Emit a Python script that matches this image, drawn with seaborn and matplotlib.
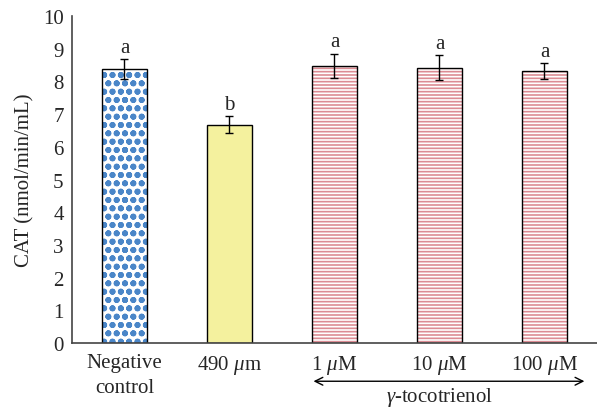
import matplotlib
matplotlib.use("Agg")
import matplotlib.pyplot as plt
import matplotlib.transforms as mtransforms
import seaborn as sns
import pandas as pd
import numpy as np

categories = ["Negative\ncontrol", "490 $\\mu$m", "1 $\\mu$M", "10 $\\mu$M", "100 $\\mu$M"]
values = [8.38, 6.68, 8.47, 8.42, 8.32]
errors = [0.30, 0.27, 0.38, 0.38, 0.25]
letters = ["a", "b", "a", "a", "a"]
y_ticks = list(range(0, 11))
group_label = "$\\gamma$-tocotrienol"

sns.set_theme(style="white")
plt.rcParams["font.family"] = ["Liberation Serif", "DejaVu Serif"]
plt.rcParams["mathtext.fontset"] = "custom"
plt.rcParams["mathtext.rm"] = "Liberation Serif"
plt.rcParams["mathtext.it"] = "Liberation Serif:italic"
plt.rcParams["hatch.linewidth"] = 1.2

FS = 15

df = pd.DataFrame({"cat": categories, "val": values})

fig = plt.figure(figsize=(5.97, 4.10), dpi=100)
ax = fig.add_axes([0.1206, 0.161, 0.8794, 0.7975])

fills = ["white", "#f4f19e", "white", "white", "white"]
hatch_cols = ["#4a86c8", "black", "#dc8c94", "#dc8c94", "#dc8c94"]
hatches = ["oo", None, "-----", "-----", "-----"]
hatch_lws = [1.9, 1.0, 1.2, 1.2, 1.2]

# hatched layer
sns.barplot(data=df, x="cat", y="val", ax=ax, width=0.42, errorbar=None,
            color="white", linewidth=0)
for p, fc, hc, h, hl in zip(ax.patches, fills, hatch_cols, hatches, hatch_lws):
    p.set_facecolor(fc)
    if h:
        p.set_hatch(h)
        p.set_edgecolor(hc)
        p.set_linewidth(0)
        if hasattr(p, "set_hatch_linewidth"):
            p.set_hatch_linewidth(hl)

# outline layer
sns.barplot(data=df, x="cat", y="val", ax=ax, width=0.42, errorbar=None,
            fill=False, edgecolor="black", linewidth=1.0)

x = np.arange(len(categories))
ax.errorbar(x, values, yerr=errors, fmt="none", ecolor="black",
            elinewidth=1.0, capsize=3, capthick=1.0)

for xi, v, e, l in zip(x, values, errors, letters):
    ax.text(xi, v + e + 0.22, l, ha="center", va="baseline", fontsize=FS)

ax.set_xlim(-0.5, 4.5)
ax.set_ylim(0, 10)
ax.set_yticks(y_ticks)
ax.set_yticklabels([str(t) for t in y_ticks], fontsize=FS)
ax.set_xticks(x)
ax.set_xticklabels(categories, fontsize=FS, linespacing=1.45)
ax.set_xticks([0.5, 1.5, 2.5, 3.5, 4.5], minor=True)
ax.tick_params(axis="x", which="major", length=0, pad=7)
ax.tick_params(axis="x", which="minor", length=5, width=1, direction="out", colors="#444444")
ax.tick_params(axis="y", length=4, width=1, direction="out", pad=2)
ax.set_xlabel("")
ax.set_ylabel("CAT (nmol/min/mL)", fontsize=FS, labelpad=6)

for s in ["top", "right"]:
    ax.spines[s].set_visible(False)
for s in ["left", "bottom"]:
    ax.spines[s].set_color("#444444")
    ax.spines[s].set_linewidth(1.2)

trans = mtransforms.blended_transform_factory(ax.transData, ax.transAxes)
ax.annotate("", xy=(1.8, -0.117), xytext=(4.38, -0.117), xycoords=trans,
            textcoords=trans,
            arrowprops=dict(arrowstyle="<->", color="black", lw=1.0,
                            shrinkA=0, shrinkB=0, mutation_scale=14),
            annotation_clip=False)
ax.text(3.0, -0.128, group_label, transform=trans, ha="center", va="top", fontsize=FS)

fig.savefig("out.png", dpi=100)
